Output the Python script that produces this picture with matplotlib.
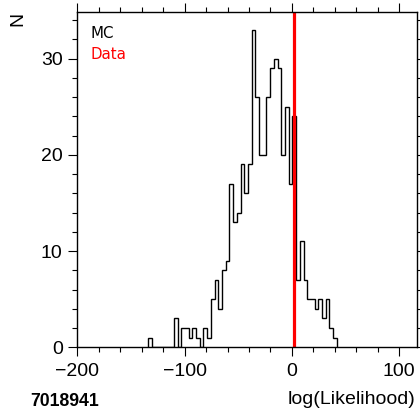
import numpy as np
import matplotlib
matplotlib.use("Agg")
import matplotlib.pyplot as plt
from matplotlib.ticker import MultipleLocator

# Monte Carlo log-likelihood distribution (counts per bin)
bin_start = -134.2
bin_width = 3.452
mc_counts = [1, 0, 0, 0, 0, 0, 0, 3, 0, 2,
             2, 1, 2, 1, 0, 2, 1, 5, 7, 4,
             8, 9, 17, 13, 14, 19, 16, 19, 33, 26,
             20, 20, 26, 29, 30, 29, 20, 25, 17, 24,
             7, 11, 7, 5, 5, 4, 5, 3, 5, 2,
             1]
data_value = 2.2

run_number = "7018941"
x_label = "log(Likelihood)"
y_label = "N"
x_ticks = [-200, -100, 0, 100]
y_ticks = [0, 10, 20, 30]

W, H = 420, 417
fig = plt.figure(figsize=(W / 100, H / 100), dpi=100)
ax = fig.add_axes([77.3 / W, 1 - 347.3 / H, (417 - 77.3) / W, (347.3 - 12.3) / H])

edges = bin_start + bin_width * np.arange(len(mc_counts) + 1)
ax.stairs(mc_counts, edges, baseline=0, fill=False, color="black", lw=1.0)
ax.axvline(data_value, color="red", lw=2.3)

ax.set_xlim(-200, 116.5)
ax.set_ylim(0, 34.8)
ax.set_xticks(x_ticks)
ax.set_yticks(y_ticks)
ax.xaxis.set_minor_locator(MultipleLocator(20))
ax.yaxis.set_minor_locator(MultipleLocator(2))
ax.tick_params(which="both", direction="out", top=True, right=True,
               labeltop=False, labelright=False, width=0.8, color="black")
ax.tick_params(which="major", length=6.5)
ax.tick_params(which="minor", length=3.3)
ax.tick_params(axis="x", which="major", pad=5)
ax.tick_params(axis="y", which="major", pad=4)
for lab in ax.get_xticklabels() + ax.get_yticklabels():
    lab.set_fontfamily("Liberation Sans")
    lab.set_fontsize(14)
for s in ax.spines.values():
    s.set_linewidth(1.0)

fig.text(90 / W, 1 - 38.3 / H, "MC", color="black", fontsize=10.8,
         family="DejaVu Sans", ha="left", va="baseline")
fig.text(90 / W, 1 - 59.3 / H, "Data", color="red", fontsize=10.8,
         family="DejaVu Sans", ha="left", va="baseline")

fig.text(17.5 / W, 1 - 19 / H, y_label, rotation=90, fontsize=14,
         family="Liberation Sans", ha="center", va="center")
fig.text(415 / W, 1 - 404 / H, x_label, fontsize=14,
         family="Liberation Sans", ha="right", va="baseline")
fig.text(30 / W, 1 - 406.5 / H, run_number, fontsize=12.7, fontweight="bold",
         family="Liberation Sans", ha="left", va="baseline")

fig.savefig("out.png", dpi=100)
